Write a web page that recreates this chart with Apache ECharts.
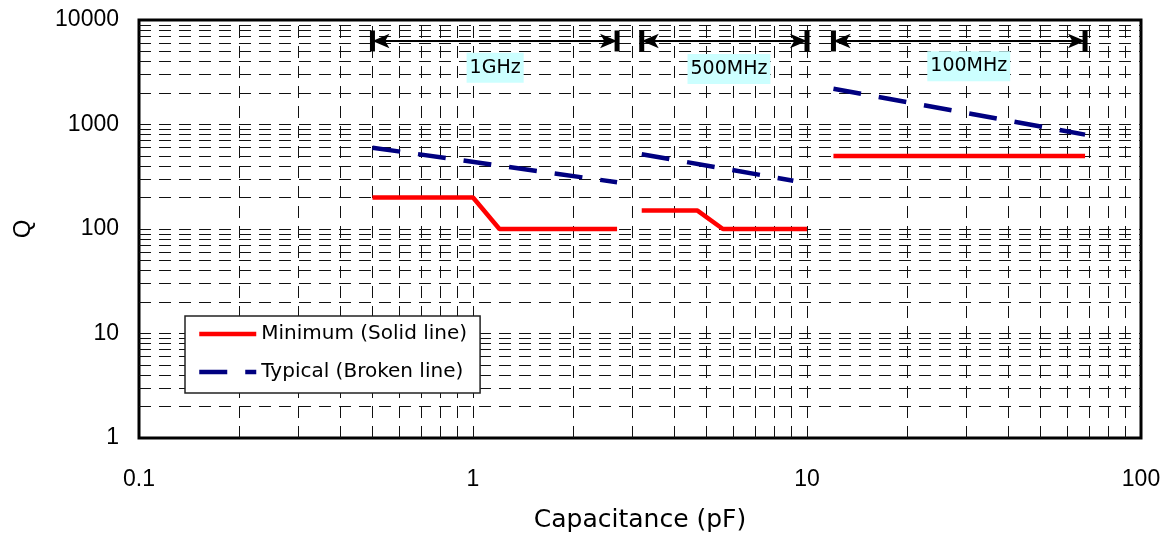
<!DOCTYPE html>
<html>
<head>
<meta charset="utf-8">
<title>Q vs Capacitance</title>
<script src="https://cdn.jsdelivr.net/npm/echarts@6/dist/echarts.min.js"></script>
<style>
  html, body { margin: 0; padding: 0; background: #ffffff; }
  #chart { width: 1167px; height: 543px; }
</style>
</head>
<body>
<div id="chart"></div>
<script>
  // minimum Q (solid red), three frequency bands
  var minSeg1 = [[0.5, 200], [1.0, 200], [1.2, 100], [2.7, 100]];
  var minSeg2 = [[3.2, 150], [4.7, 150], [5.6, 100], [10, 100]];
  var minSeg3 = [[12, 500], [68, 500]];
  // typical Q (broken navy)
  var typSeg1 = [[0.5, 600], [2.7, 280]];
  var typSeg2 = [[3.2, 520], [9.1, 290]];
  var typSeg3 = [[12, 2200], [68, 800]];
  // band arrows
  var bandNames = ['1GHz', '500MHz', '100MHz'];
  var bandFrom = [0.5, 3.2, 12];
  var bandTo = [2.7, 10, 68];
  var bandArrowQ = 6300;
  var bandLabelAt = [[1.165, 3500], [5.84, 3400], [30.5, 3600]];
  var xTicks = [0.1, 1, 10, 100];
  var yTicks = [1, 10, 100, 1000, 10000];

  var minName = 'Minimum (Solid line)';
  var typName = 'Typical (Broken line)';

  // dashed grid at every 1..9 x 10^n inside the plot
  var gridLines = [];
  function addGrid(lo, hi, key) {
    for (var d = lo; d < hi; d *= 10) {
      for (var k = 1; k <= 9; k++) {
        var v = +(k * d).toPrecision(3);
        if (v > lo && v < hi) {
          var o = {};
          o[key] = v;
          gridLines.push(o);
        }
      }
    }
  }
  addGrid(0.1, 100, 'xAxis');
  addGrid(1, 10000, 'yAxis');

  var arrowLines = [];
  var arrowEnds = [];
  for (var i = 0; i < bandNames.length; i++) {
    arrowLines.push([{coord: [bandFrom[i], bandArrowQ]}, {coord: [bandTo[i], bandArrowQ]}]);
    arrowEnds.push([bandFrom[i], bandArrowQ], [bandTo[i], bandArrowQ]);
  }
  var labelData = [];
  for (var j = 0; j < bandNames.length; j++) {
    labelData.push({value: bandLabelAt[j], name: bandNames[j]});
  }

  var myChart = echarts.init(document.getElementById('chart'));

  function minSeries(d) {
    return {
      name: minName, type: 'line', data: d, symbol: 'none', z: 5,
      lineStyle: {color: '#ff0000', width: 4.5},
      itemStyle: {color: '#ff0000'}
    };
  }
  function typSeries(d) {
    return {
      name: typName, type: 'line', data: d, symbol: 'none', z: 5,
      lineStyle: {color: '#000080', width: 4.5, type: [28, 18]},
      itemStyle: {color: '#000080'}
    };
  }

  var option = {
    animation: false,
    backgroundColor: '#ffffff',
    grid: {
      left: 139, right: 26, top: 20, bottom: 105,
      show: true, borderColor: '#000000', borderWidth: 3,
      backgroundColor: '#ffffff',
      containLabel: false, outerBoundsMode: 'none'
    },
    legend: {
      data: [minName, typName],
      orient: 'vertical',
      left: 185, top: 316,
      itemWidth: 57, itemHeight: 14, itemGap: 18,
      padding: [8, 13, 11, 12],
      backgroundColor: '#ffffff',
      borderColor: '#222222', borderWidth: 1.5, borderRadius: 0,
      selectedMode: false,
      itemStyle: {opacity: 0},
      lineStyle: {width: 4.5},
      textStyle: {fontFamily: 'DejaVu Sans', fontSize: 20, color: '#000000'}
    },
    xAxis: {
      type: 'log', logBase: 10, min: 0.1, max: 100,
      name: 'Capacitance (pF)', nameLocation: 'middle', nameGap: 70,
      nameTextStyle: {fontFamily: 'DejaVu Sans', fontSize: 25, color: '#000000'},
      axisLine: {show: false}, axisTick: {show: false},
      splitLine: {show: false},
      axisLabel: {
        margin: 30, fontFamily: 'Liberation Sans', fontSize: 23, color: '#000000',
        formatter: function (v) { return xTicks.indexOf(+v.toPrecision(3)) >= 0 ? String(+v.toPrecision(3)) : ''; }
      }
    },
    yAxis: {
      type: 'log', logBase: 10, min: 1, max: 10000,
      name: 'Q', nameLocation: 'middle', nameGap: 104, nameRotate: 90,
      nameTextStyle: {fontFamily: 'Liberation Sans', fontSize: 24, color: '#000000'},
      axisLine: {show: false}, axisTick: {show: false},
      splitLine: {show: false},
      axisLabel: {
        margin: 20, fontFamily: 'Liberation Sans', fontSize: 23, color: '#000000',
        formatter: function (v) { return yTicks.indexOf(Math.round(v)) >= 0 ? String(Math.round(v)) : ''; }
      }
    },
    series: [
      {
        type: 'scatter', data: arrowEnds, z: 4, silent: true,
        symbol: 'rect', symbolSize: [5, 21],
        itemStyle: {color: '#000000', opacity: 1},
        markLine: {
          silent: true, symbol: ['none', 'none'], label: {show: false},
          lineStyle: {color: '#111111', width: 1, type: [12, 8], opacity: 1},
          data: gridLines, z: 1
        }
      },
      {
        type: 'scatter', data: [], silent: true, z: 4,
        markLine: {
          silent: true, symbol: ['arrow', 'arrow'], symbolSize: [11, 17],
          label: {show: false},
          lineStyle: {color: '#000000', width: 2, type: 'solid', opacity: 1},
          data: arrowLines
        }
      },
      {
        type: 'scatter', data: labelData, symbolSize: 0, silent: true, z: 6,
        itemStyle: {opacity: 1},
        label: {
          show: true, position: 'inside', formatter: '{b}',
          fontFamily: 'DejaVu Sans', fontSize: 19, color: '#000000',
          textBorderWidth: 0, textShadowBlur: 0,
          backgroundColor: '#ccffff', padding: [6, 3, 5, 3]
        }
      },
      minSeries(minSeg1), minSeries(minSeg2), minSeries(minSeg3),
      typSeries(typSeg1), typSeries(typSeg2), typSeries(typSeg3)
    ]
  };
  myChart.setOption(option);
</script>
</body>
</html>
